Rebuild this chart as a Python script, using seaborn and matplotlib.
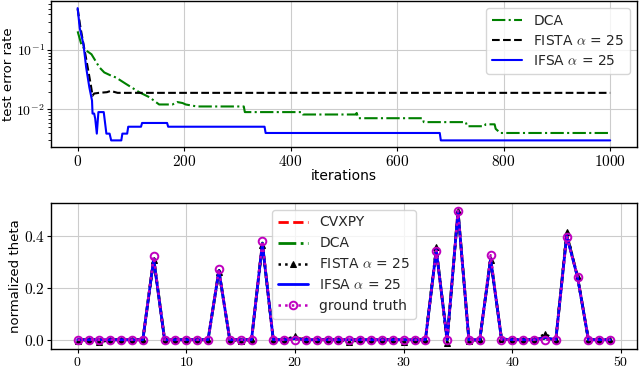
import matplotlib
matplotlib.use("Agg")
import matplotlib.pyplot as plt
import matplotlib.ticker as mticker
import seaborn as sns
import pandas as pd
import numpy as np

# ---------------- data: top panel (test error vs iterations) ----------------
dca_it = [0, 7, 13, 26, 41, 50, 63, 72, 91, 116, 135, 153, 178, 187, 197, 203, 224, 312, 314, 421, 423,
          522, 524, 527, 648, 650, 729, 731, 764, 766, 783, 785, 791, 793, 1000]
dca_err = [0.207, 0.124, 0.103, 0.085, 0.051, 0.042, 0.037, 0.0345, 0.0268, 0.0194, 0.016, 0.0121, 0.0121,
           0.0133, 0.0128, 0.0121, 0.0112, 0.0112, 0.009, 0.009, 0.0082, 0.0082, 0.0087, 0.0071, 0.0071,
           0.0061, 0.0061, 0.0052, 0.0052, 0.0056, 0.0056, 0.0047, 0.0042, 0.004, 0.004]

fista_it = [0, 5, 10, 15, 20, 25, 28, 31, 40, 55, 62, 75, 1000]
fista_err = [0.5, 0.25, 0.14, 0.08, 0.045, 0.025, 0.017, 0.0185, 0.019, 0.0195, 0.0205, 0.019, 0.019]

ifsa_it = [0, 4, 11, 16, 22, 27, 28, 31, 33, 36, 39, 49, 54, 60, 63, 82, 84, 93, 95, 119, 121, 168, 170,
           351, 353, 680, 682, 1000]
ifsa_err = [0.51, 0.235, 0.124, 0.051, 0.0235, 0.0141, 0.0085, 0.0085, 0.007, 0.0039, 0.009, 0.009,
            0.0039, 0.0039, 0.003, 0.003, 0.0039, 0.0039, 0.0051, 0.0051, 0.0059, 0.0059, 0.0051,
            0.0051, 0.0040, 0.0040, 0.0030, 0.0030]

# ---------------- data: bottom panel (normalized theta) ----------------
idx = list(range(50))
theta_gt = [0, 0, 0, 0, 0, 0, 0, 0.32, 0, 0, 0, 0, 0, 0.272, 0, 0, 0, 0.38, 0, 0,
            0, 0, 0, 0, 0, 0, 0, 0, 0, 0, 0, 0, 0, 0.342, 0, 0.496, 0, 0, 0.325, 0,
            0, 0, 0, 0, 0, 0.395, 0.243, 0, 0, 0]
theta_fista = [-0.006, 0, -0.01, 0, 0, 0, 0, 0.305, 0, 0, 0, 0, 0, 0.26, 0, -0.004, 0, 0.365, 0, 0,
               0.013, 0, 0, 0, 0, -0.01, 0, 0, 0, 0, -0.01, 0, 0, 0.355, -0.013, 0.495, -0.005, 0, 0.305, 0.004,
               0, 0, 0, 0.022, 0, 0.414, 0.24, 0, 0, 0]
theta_cvxpy = [0, 0, 0, 0, 0, 0, 0, 0.31, 0, 0, 0, 0, 0, 0.265, 0, 0, 0, 0.37, 0, 0,
               0.008, 0, 0, 0, 0, 0, 0, 0, 0, 0, 0, 0, 0, 0.345, 0, 0.495, 0, 0, 0.31, 0.005,
               0, 0, 0, 0.01, 0, 0.405, 0.242, 0, 0, 0]
theta_dca = [0, 0, 0, 0, 0, 0, 0, 0.312, 0.004, 0, 0, 0, 0, 0.266, 0, 0, 0, 0.372, 0, 0,
             0.004, 0, 0, 0, 0, 0, 0, 0, 0, 0, 0, 0, 0, 0.346, 0, 0.495, 0, 0, 0.312, 0.003,
             0, 0, 0, 0.005, 0, 0.404, 0.241, 0, 0, 0]
theta_ifsa = [0, 0, 0, 0, 0, 0, 0, 0.31, 0, 0, 0, 0, 0, 0.265, 0, 0, 0, 0.37, 0, 0,
              0.005, 0, 0, 0, 0, 0, 0, 0, 0, 0, 0, 0, 0, 0.345, 0, 0.494, 0, 0, 0.31, 0.003,
              0, 0, 0, 0.008, 0, 0.40, 0.24, 0, 0, 0]

# ---------------- style ----------------
sns.set_style("whitegrid", {
    "axes.edgecolor": "black",
    "grid.color": "#cccccc",
    "xtick.bottom": True,
    "ytick.left": True,
    "xtick.color": "black",
    "ytick.color": "black",
})
plt.rcParams["font.family"] = ["DejaVu Sans"]
plt.rcParams["mathtext.fontset"] = "cm"
plt.rcParams["axes.linewidth"] = 1.0
plt.rcParams["xtick.major.size"] = 3.0
plt.rcParams["ytick.major.size"] = 3.0
plt.rcParams["ytick.minor.size"] = 2.0
plt.rcParams["axes.labelcolor"] = "black"

fig = plt.figure(figsize=(6.4, 3.69), dpi=100)
ax1 = fig.add_axes([0.0797, 0.6016, 0.9153, 0.3954])
ax2 = fig.add_axes([0.0797, 0.0542, 0.9153, 0.3957])

def math_fmt(v, pos):
    return r"$%g$" % v

def math_fmt1(v, pos):
    return r"$%.1f$" % v

def log_fmt(v, pos):
    if v <= 0:
        return ""
    e = np.log10(v)
    if abs(e - round(e)) < 1e-6:
        return r"$10^{%d}$" % round(e)
    return ""

lab_fista = r"FISTA $\alpha$ = 25"
lab_ifsa = r"IFSA $\alpha$ = 25"

# ---------------- top panel ----------------
sns.lineplot(x=dca_it, y=dca_err, ax=ax1, color="g", linestyle="-.", linewidth=1.5,
             estimator=None, sort=False, label="DCA")
sns.lineplot(x=fista_it, y=fista_err, ax=ax1, color="k", linestyle="--", linewidth=1.5,
             estimator=None, sort=False, label=lab_fista)
sns.lineplot(x=ifsa_it, y=ifsa_err, ax=ax1, color="b", linestyle="-", linewidth=1.5,
             estimator=None, sort=False, label=lab_ifsa)
ax1.set_yscale("log")
ax1.set_xlim(-50, 1050)
ax1.set_ylim(0.00232, 0.67)
ax1.set_xticks([0, 200, 400, 600, 800, 1000])
ax1.xaxis.set_major_formatter(mticker.FuncFormatter(math_fmt))
ax1.yaxis.set_major_locator(mticker.LogLocator(base=10, numticks=10))
ax1.yaxis.set_major_formatter(mticker.FuncFormatter(log_fmt))
ax1.yaxis.set_minor_locator(mticker.LogLocator(base=10, subs=np.arange(2, 10), numticks=20))
ax1.yaxis.set_minor_formatter(mticker.NullFormatter())
ax1.tick_params(axis="y", which="minor", left=True, length=2, width=0.6)
ax1.tick_params(axis="x", which="major", labelsize=11, pad=2)
ax1.tick_params(axis="y", which="major", labelsize=10, pad=1.5)
ax1.set_xlabel("iterations", fontsize=10, labelpad=0)
ax1.set_ylabel("test error rate", fontsize=9.5, labelpad=1)
ax1.grid(True, which="major", color="#cccccc", linewidth=0.8)
ax1.grid(False, which="minor")
ax1.legend(loc="upper right", fontsize=10, handlelength=2.2, borderpad=0.4, labelspacing=0.45,
           framealpha=0.8, fancybox=True)

# ---------------- bottom panel ----------------
sns.lineplot(x=idx, y=theta_cvxpy, ax=ax2, color="r", linestyle="--", linewidth=2.0,
             estimator=None, sort=False, label="CVXPY")
sns.lineplot(x=idx, y=theta_dca, ax=ax2, color="g", linestyle="-.", linewidth=2.0,
             estimator=None, sort=False, label="DCA")
sns.lineplot(x=idx, y=theta_fista, ax=ax2, color="k", linestyle=":", linewidth=1.8,
             marker="^", markersize=5, markeredgecolor="k", estimator=None, sort=False,
             label=lab_fista)
sns.lineplot(x=idx, y=theta_ifsa, ax=ax2, color="b", linestyle="-", linewidth=2.0,
             estimator=None, sort=False, label=lab_ifsa)
sns.lineplot(x=idx, y=theta_gt, ax=ax2, color="m", linestyle=":", linewidth=1.8,
             marker="o", markersize=5.5, markerfacecolor="none", markeredgecolor="m",
             markeredgewidth=1.4, estimator=None, sort=False, label="ground truth")
ax2.set_xlim(-2.45, 51.45)
ax2.set_ylim(-0.0355, 0.5255)
ax2.set_xticks([0, 10, 20, 30, 40, 50])
ax2.set_yticks([0.0, 0.2, 0.4])
ax2.xaxis.set_major_formatter(mticker.FuncFormatter(math_fmt))
ax2.yaxis.set_major_formatter(mticker.FuncFormatter(math_fmt1))
ax2.tick_params(axis="x", which="major", labelsize=10, pad=1)
ax2.tick_params(axis="y", which="major", labelsize=11, pad=1.5)
ax2.set_xlabel("")
ax2.set_ylabel("normalized theta", fontsize=9.5, labelpad=1)
ax2.grid(True, color="#cccccc", linewidth=0.8)
ax2.legend(loc="upper center", fontsize=10, handlelength=2.2, borderpad=0.4, labelspacing=0.5,
           framealpha=0.8, fancybox=True)

fig.savefig("out.png", dpi=100)
